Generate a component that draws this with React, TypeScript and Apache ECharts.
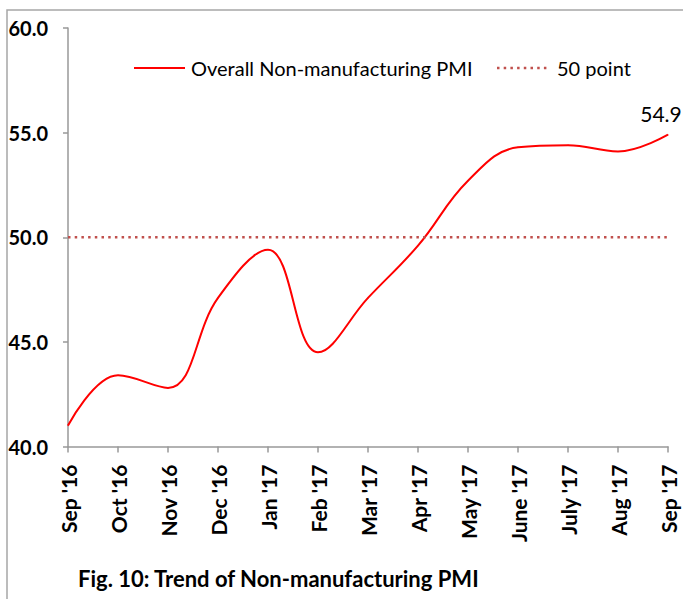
import React, { useEffect, useRef } from "react";
import * as echarts from "echarts";

const categories = ["Sep '16", "Oct '16", "Nov '16", "Dec '16", "Jan '17", "Feb '17", "Mar '17", "Apr '17", "May '17", "June '17", "July '17", "Aug '17", "Sep '17"];
const pmiValues = [41.0, 43.4, 42.8, 47.1, 49.4, 44.5, 47.1, 49.6, 52.7, 54.3, 54.4, 54.1, 54.9];
const fiftyLine = [50, 50, 50, 50, 50, 50, 50, 50, 50, 50, 50, 50, 50];
const seriesNames = ["Overall Non-manufacturing PMI", "50 point"];
const yTicks = { min: 40, max: 60, interval: 5 };
const titleText = "Fig. 10: Trend of Non-manufacturing PMI";

const FONT = "Lato, 'Open Sans', sans-serif";
const RED = "#ff0000";
const DOT = "#c0504d";

export default function App() {
  const ref = useRef<HTMLDivElement>(null);
  useEffect(() => {
    if (!ref.current) return;
    const chart = echarts.init(ref.current, undefined, { renderer: "svg" });
    const last = pmiValues.length - 1;
    chart.setOption({
      animation: false,
      backgroundColor: "#ffffff",
      textStyle: { fontFamily: FONT },
      grid: { left: 68, right: 15, top: 28, bottom: 152.5, containLabel: false },
      graphic: [
        {
          type: "rect",
          shape: { x: 7, y: 10, width: 720, height: 640 },
          style: { fill: "none", stroke: "#a6a6a6", lineWidth: 1.5 },
          silent: true,
          z: -1,
        },
        {
          type: "line",
          shape: { x1: 134, y1: 68, x2: 185, y2: 68 },
          style: { stroke: RED, lineWidth: 2 },
        },
        {
          type: "text",
          x: 191,
          y: 68,
          style: { text: seriesNames[0], font: `20px ${FONT}`, fill: "#000", verticalAlign: "middle" },
        },
        {
          type: "line",
          shape: { x1: 497, y1: 68, x2: 549, y2: 68 },
          style: { stroke: DOT, lineWidth: 2.5, lineDash: [2.5, 4.2] },
        },
        {
          type: "text",
          x: 557,
          y: 68,
          style: { text: seriesNames[1], font: `20px ${FONT}`, fill: "#000", verticalAlign: "middle" },
        },
        {
          type: "text",
          x: 78,
          y: 578,
          style: { text: titleText, font: `bold 22px ${FONT}`, fill: "#000", verticalAlign: "middle" },
        },
      ],
      xAxis: {
        type: "category",
        data: categories,
        boundaryGap: false,
        axisLine: { lineStyle: { color: "#999", width: 1.5 } },
        axisTick: { show: true, alignWithLabel: true, length: 6, lineStyle: { color: "#999", width: 1.5 } },
        axisLabel: {
          rotate: 90,
          interval: 0,
          margin: 18,
          fontFamily: FONT,
          fontWeight: "bold",
          fontSize: 21,
          color: "#000",
        },
        splitLine: { show: false },
      },
      yAxis: {
        type: "value",
        min: yTicks.min,
        max: yTicks.max,
        interval: yTicks.interval,
        axisLine: { show: true, lineStyle: { color: "#999", width: 1.5 } },
        axisTick: { show: true, length: 5, lineStyle: { color: "#999", width: 1.5 } },
        axisLabel: {
          formatter: (v: number) => v.toFixed(1),
          margin: 20,
          fontFamily: FONT,
          fontWeight: "bold",
          fontSize: 20,
          color: "#000",
        },
        splitLine: { show: false },
      },
      series: [
        {
          name: seriesNames[0],
          type: "line",
          data: pmiValues.map((v, i) =>
            i === last
              ? {
                  value: v,
                  label: {
                    show: true,
                    position: "top",
                    distance: 10,
                    offset: [-7, 0],
                    fontSize: 21,
                    color: "#000",
                    fontFamily: FONT,
                  },
                }
              : v
          ),
          smooth: 0.4,
          symbol: "circle",
          symbolSize: 1,
          showSymbol: true,
          lineStyle: { color: RED, width: 2 },
          itemStyle: { color: RED },
        },
        {
          name: seriesNames[1],
          type: "line",
          data: fiftyLine,
          symbol: "none",
          lineStyle: { color: DOT, width: 2.5, type: [2.5, 4.2] },
          itemStyle: { color: DOT },
        },
      ],
    });
    return () => chart.dispose();
  }, []);
  return <div ref={ref} style={{ width: 683, height: 599, position: "absolute", left: 0, top: 0 }} />;
}
